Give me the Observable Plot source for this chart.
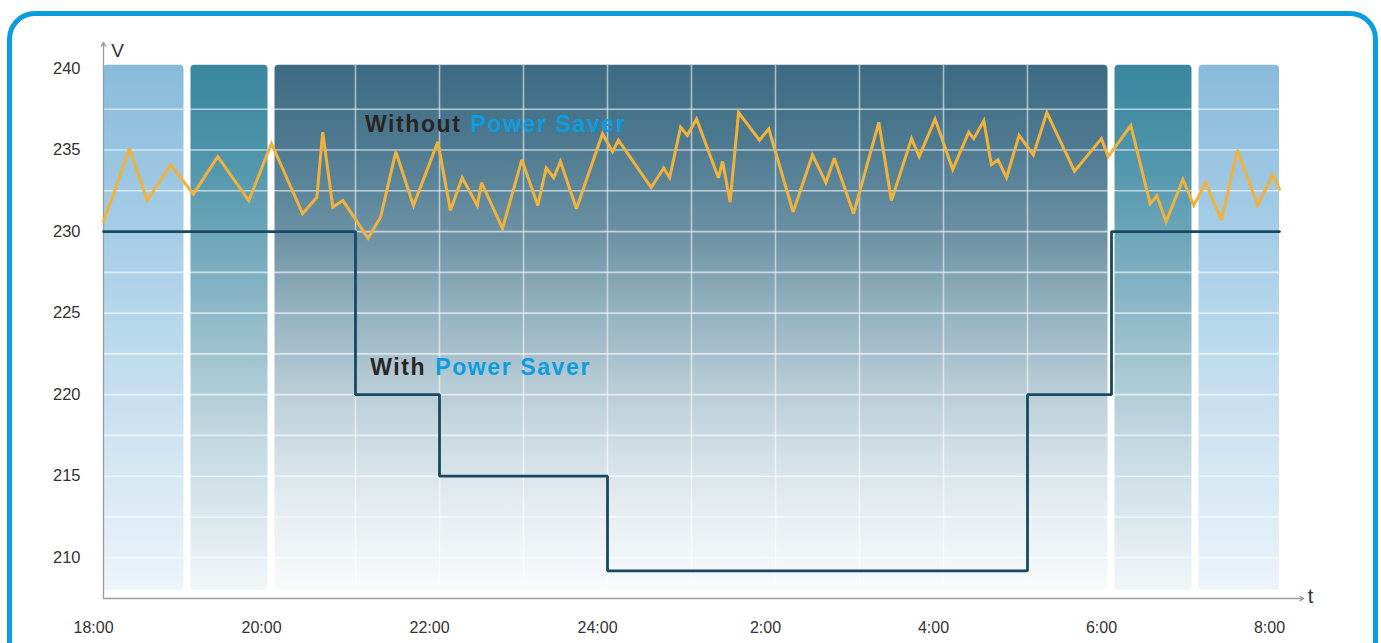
<!DOCTYPE html>
<html><head><meta charset="utf-8">
<script src="https://cdn.jsdelivr.net/npm/d3@7"></script>
<script src="https://cdn.jsdelivr.net/npm/@observablehq/plot@0.6"></script>
<style>
html,body{margin:0;padding:0;background:#fff;width:1381px;height:643px;overflow:hidden;}
#chart{position:absolute;left:0;top:0;}
#frame{position:absolute;left:7px;top:11px;width:1371px;height:720px;border:5px solid #0b9ddf;border-radius:28px;box-sizing:border-box;pointer-events:none;}
</style></head><body>
<div id="chart"></div><div id="frame"></div>
<script>
// ---- data ----
const withoutHours = [18.00,18.31,18.52,18.80,19.07,19.36,19.73,20.00,20.37,20.54,20.61,20.73,20.85,21.15,21.30,21.48,21.69,21.98,22.13,22.27,22.45,22.50,22.75,22.98,23.17,23.27,23.36,23.44,23.63,23.94,24.06,24.13,24.52,24.67,24.74,24.87,24.95,25.06,25.32,25.37,25.46,25.56,25.81,25.92,26.21,26.44,26.60,26.70,26.93,27.23,27.38,27.62,27.71,27.90,28.11,28.30,28.36,28.48,28.57,28.65,28.75,28.90,29.07,29.23,29.56,29.88,29.96,30.23,30.46,30.54,30.65,30.85,30.98,31.12,31.31,31.50,31.74,31.92,32.00];
const withoutVolts = [230.6,235.1,231.9,234.1,232.3,234.6,231.9,235.4,231.1,232.1,236.1,231.5,231.9,229.6,230.9,234.9,231.6,235.5,231.3,233.3,231.6,233.0,230.2,234.4,231.6,233.9,233.3,234.3,231.4,236.0,234.9,235.6,232.7,233.9,233.3,236.4,235.9,236.9,233.3,234.3,231.8,237.3,235.6,236.3,231.2,234.7,233.0,234.5,231.1,236.7,231.9,235.7,234.6,236.9,233.8,236.1,235.7,236.8,234.1,234.4,233.3,235.9,234.7,237.3,233.7,235.7,234.6,236.5,231.7,232.2,230.6,233.2,231.6,233.0,230.7,235.0,231.6,233.5,232.6];
const withHours = [18, 21, 22, 24, 29, 30, 32];
const withVolts = [230, 220, 215, 209.2, 220, 230, 230];

const tickHours = [18, 20, 22, 24, 26, 28, 30, 32];
const tickLabels = ["18:00", "20:00", "22:00", "24:00", "2:00", "4:00", "6:00", "8:00"];
const yTicks = [210, 215, 220, 225, 230, 235, 240];
const gridVolts = [210, 212.5, 215, 217.5, 220, 222.5, 225, 227.5, 230, 232.5, 235, 237.5];
const gridHours = [21, 22, 23, 24, 25, 26, 27, 28, 29];

const bandStart = [18, 19, 20, 30, 31];
const bandEnd = [19, 20, 30, 31, 32];
const bandTone = ["light", "teal", "dark", "teal", "light"];
const bandBottom = 208, bandTop = 240.2;

const annotFirst = ["Without", "With"];
const annotSecond = ["Power Saver", "Power Saver"];
const annotHour = [22.31, 21.89];
const annotVolt = [236.56, 221.66];

const xDomain = [18, 32], yDomain = [207.5, 240];
const xArrowEnd = 32.29, yArrowEnd = 241.6;

// ---- build ----
const withoutData = withoutHours.map((h, i) => ({h, v: withoutVolts[i]}));
const withData = withHours.map((h, i) => ({h, v: withVolts[i]}));
const bands = bandStart.map((s, i) => ({x1: s, x2: bandEnd[i], tone: bandTone[i]}));
const annots = annotFirst.map((t, i) => ({a: t, b: annotSecond[i], h: annotHour[i], v: annotVolt[i]}));
const font = "'Liberation Sans', Arial, sans-serif";

const marks = [];
bands.forEach((b, i) => {
  marks.push(Plot.rect([b], {
    x1: "x1", x2: "x2", y1: () => bandBottom, y2: () => bandTop,
    fill: `url(#g-${b.tone})`,
    insetLeft: i === 0 ? 0 : 3.5, insetRight: i === bands.length - 1 ? 0 : 3.5,
    rx: 4
  }));
});
marks.push(
  Plot.ruleY(gridVolts, {x1: xDomain[0], x2: xDomain[1], stroke: "white", strokeOpacity: 0.6, strokeWidth: 1.6}),
  Plot.ruleX(gridHours, {y1: bandBottom, y2: bandTop, stroke: "white", strokeOpacity: 0.55, strokeWidth: 1.6}),
  Plot.arrow([0], {x1: xDomain[0], y1: yDomain[0], x2: xDomain[0], y2: yArrowEnd, stroke: "#9c9c9c", strokeWidth: 1.3, headLength: 5, bend: 0}),
  Plot.arrow([0], {x1: xDomain[0], y1: yDomain[0], x2: xArrowEnd, y2: yDomain[0], stroke: "#9c9c9c", strokeWidth: 1.3, headLength: 5, bend: 0}),
  Plot.line(withData, {x: "h", y: "v", curve: "step-after", stroke: "#174a62", strokeWidth: 2.8, strokeLinejoin: "miter"}),
  Plot.line(withoutData, {x: "h", y: "v", stroke: "#f1b23b", strokeWidth: 3, strokeLinejoin: "miter", strokeMiterlimit: 3}),
  Plot.text(annots, {x: "h", y: "v", text: "a", textAnchor: "end", dx: -4, fill: "#2b2424", fontWeight: "bold", fontSize: 23}),
  Plot.text(annots, {x: "h", y: "v", text: "b", textAnchor: "start", dx: 5, fill: "#0a9de0", fontWeight: "bold", fontSize: 23}),
  Plot.text(tickHours, {x: d => d, frameAnchor: "bottom", lineAnchor: "middle", dy: 29, dx: -10, text: (d, i) => tickLabels[i], fontSize: 16, fill: "#333"}),
  Plot.text(yTicks, {y: d => d, frameAnchor: "left", textAnchor: "end", lineAnchor: "middle", dx: -23, text: d => String(d), fontSize: 16.5, fill: "#333"}),
  Plot.text(["V"], {frameAnchor: "top-left", textAnchor: "middle", lineAnchor: "middle", dx: 14, dy: -18, fontSize: 19, fill: "#333"}),
  Plot.text(["t"], {frameAnchor: "bottom-right", textAnchor: "middle", lineAnchor: "middle", dx: 31, dy: -2, fontSize: 20, fill: "#333"})
);

const chart = Plot.plot({
  width: 1381, height: 643,
  marginLeft: 103, marginRight: 102, marginTop: 68, marginBottom: 45,
  x: {domain: xDomain, axis: null},
  y: {domain: yDomain, axis: null},
  style: {background: "transparent", overflow: "visible", fontFamily: font},
  marks
});

// gradients
const ns = "http://www.w3.org/2000/svg";
const defs = document.createElementNS(ns, "defs");
const grads = {
  light: [[0, "#88bbdb"], [0.32, "#a6cde6"], [0.5, "#b8d8ec"], [0.7, "#cde3f1"], [1, "#edf4fa"]],
  teal: [[0, "#3a869f"], [0.15, "#4a92a9"], [0.32, "#6ca5b8"], [0.5, "#94bccb"], [0.7, "#c0d7e0"], [1, "#f1f6f8"]],
  dark: [[0, "#3d6b83"], [0.15, "#4d7a90"], [0.32, "#6b90a3"], [0.45, "#90afbd"], [0.64, "#bdd0d9"], [0.83, "#e4ecf0"], [1, "#f8fafb"]]
};
for (const [id, stops] of Object.entries(grads)) {
  const g = document.createElementNS(ns, "linearGradient");
  g.setAttribute("id", "g-" + id);
  g.setAttribute("x1", "0"); g.setAttribute("y1", "0"); g.setAttribute("x2", "0"); g.setAttribute("y2", "1");
  for (const [o, c] of stops) {
    const s = document.createElementNS(ns, "stop");
    s.setAttribute("offset", o); s.setAttribute("stop-color", c);
    g.appendChild(s);
  }
  defs.appendChild(g);
}
chart.prepend(defs);
const annotStrings = new Set([...annotFirst, ...annotSecond]);
chart.querySelectorAll("text").forEach(t => {
  if (annotStrings.has(t.textContent)) t.setAttribute("letter-spacing", "1.6");
});
document.getElementById("chart").appendChild(chart);
</script>
</body></html>
